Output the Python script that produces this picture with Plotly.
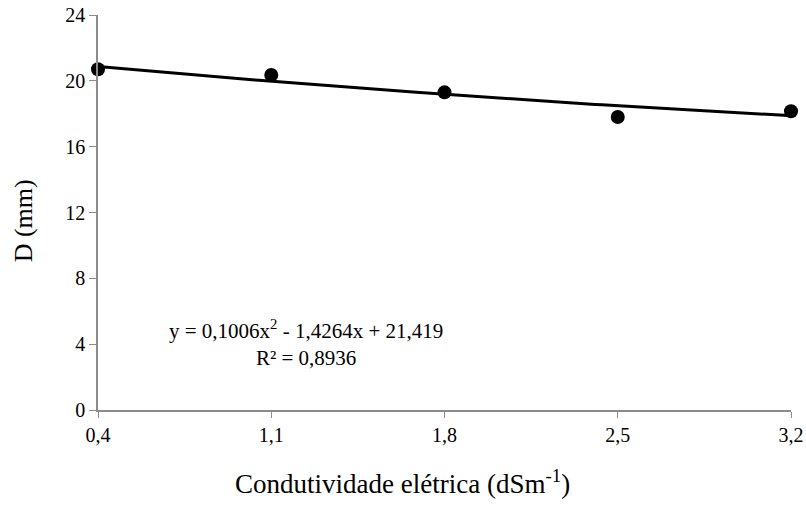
import numpy as np
import plotly.graph_objects as go

# Observed stem diameter vs. electrical conductivity
condutividade = [0.4, 1.1, 1.8, 2.5, 3.2]
diametro = [20.7, 20.35, 19.3, 17.8, 18.15]

x_ticks = [0.4, 1.1, 1.8, 2.5, 3.2]
x_tick_labels = ["0,4", "1,1", "1,8", "2,5", "3,2"]
y_ticks = [0, 4, 8, 12, 16, 20, 24]
y_tick_labels = ["0", "4", "8", "12", "16", "20", "24"]

# Quadratic regression coefficients
a2, a1, a0 = 0.1006, -1.4264, 21.419

xf = np.linspace(0.4, 3.2, 100)
yf = a2 * xf**2 + a1 * xf + a0

font_family = "Liberation Serif, Times New Roman, serif"
axis_color = "#8c8c8c"

fig = go.Figure()
fig.add_trace(go.Scatter(x=xf, y=yf, mode="lines",
                         line=dict(color="black", width=3),
                         cliponaxis=False, showlegend=False, hoverinfo="skip"))
fig.add_trace(go.Scatter(x=condutividade, y=diametro, mode="markers",
                         marker=dict(color="black", size=14),
                         cliponaxis=False, showlegend=False))

# Regression equation and coefficient of determination
fig.add_annotation(x=0.3, y=0.17, xref="paper", yref="paper",
                   xanchor="center", yanchor="middle",
                   text="y = 0,1006x<sup>2</sup> - 1,4264x + 21,419<br>R² = 0,8936",
                   showarrow=False, align="center",
                   font=dict(family=font_family, size=21, color="black"))

# Axis titles
fig.add_annotation(x=0.4387, y=-0.182, xref="paper", yref="paper",
                   xanchor="center", yanchor="middle",
                   text="Condutividade elétrica (dSm<sup>-1</sup>)",
                   showarrow=False,
                   font=dict(family=font_family, size=27, color="black"))
fig.add_annotation(x=-0.108, y=0.478, xref="paper", yref="paper",
                   xanchor="center", yanchor="middle", textangle=-90,
                   text="D (mm)", showarrow=False,
                   font=dict(family=font_family, size=26, color="black"))

fig.update_layout(
    width=806, height=508,
    margin=dict(l=98, r=15, t=15, b=98),
    paper_bgcolor="white", plot_bgcolor="white",
    font=dict(family=font_family, color="black", size=20),
    xaxis=dict(range=[0.4, 3.200001], tickvals=x_ticks, ticktext=x_tick_labels,
               showgrid=False, zeroline=False, showline=True,
               linecolor=axis_color, linewidth=1.5, ticks="outside",
               ticklen=6, tickcolor=axis_color, automargin=False,
               tickfont=dict(size=20), ticklabeloverflow="allow"),
    yaxis=dict(range=[0, 24], tickvals=y_ticks, ticktext=y_tick_labels,
               showgrid=False, zeroline=False, showline=True,
               linecolor=axis_color, linewidth=1.5, ticks="outside",
               ticklen=7, tickcolor=axis_color, automargin=False,
               tickfont=dict(size=20), ticklabeloverflow="allow"),
)

fig.write_html("out.html")
